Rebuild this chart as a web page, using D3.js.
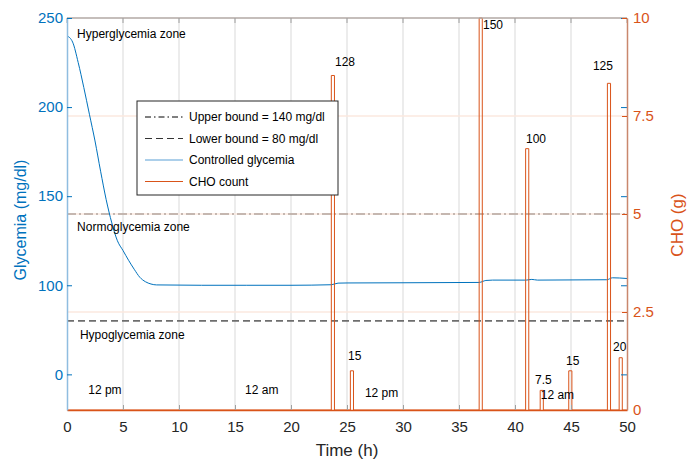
<!DOCTYPE html>
<html>
<head>
<meta charset="utf-8">
<script src="https://cdn.jsdelivr.net/npm/d3@7"></script>
<style>
  body { margin: 0; background: #fff; }
  svg { font-family: "Liberation Sans", Arial, Helvetica, sans-serif; }
</style>
</head>
<body>
<div id="chart"></div>
<script>
// Axis ticks
const timeTicks = [0, 5, 10, 15, 20, 25, 30, 35, 40, 45, 50];
const glyTicks = [50, 100, 150, 200, 250];
const glyTickLabels = ['0', '100', '150', '200', '250'];
const choTicks = [0, 2.5, 5, 7.5, 10];
const choTickLabels = ['0', '2.5', '5', '7.5', '10'];

// Controlled glycemia (mg/dl) over time (h)
const glyTime = [0, 0.5, 1, 1.5, 2, 2.5, 3, 3.5, 4, 4.5, 5, 5.5, 6, 6.5, 7, 7.5, 8,
  12, 16, 20, 23.6, 24.2, 25, 30, 36.8, 37.4, 38, 41, 41.5, 42, 45, 48.2, 48.7, 50];
const glyValue = [240, 236.5, 225, 211, 196, 181, 164, 148, 135, 125, 119.5, 114, 109, 104.5, 102, 100.7, 100.2,
  100, 100, 100, 100.3, 101.2, 101.3, 101.4, 101.6, 102.7, 102.9, 102.9, 103.3, 102.9, 103, 103.1, 104.2, 103.8];

// Meals: start time (h) and carbohydrate (g); plotted as 15 g exchanges
const mealStart = [23.6, 25.3, 36.8, 40.95, 42.25, 44.8, 48.25, 49.3];
const mealGrams = [128, 15, 150, 100, 7.5, 15, 125, 20];
const mealDuration = 0.28;
const gramsPerExchange = 15;

// Where the meal labels sit (time h, CHO units)
const mealLabelTime = [23.93, 25.09, 37.14, 40.98, 41.79, 44.55, 46.96, 48.75];
const mealLabelCho = [8.88, 1.38, 9.82, 6.91, 0.76, 1.25, 8.78, 1.61];

// Bounds
const upperBound = 140;
const lowerBound = 80;

// Zone texts
const zoneNames = ['Hyperglycemia zone', 'Normoglycemia zone', 'Hypoglycemia zone'];
const zoneTime = [0.9, 0.9, 1.15];
const zoneGly = [241, 132.6, 72];

// Time of day texts
const dayNames = ['12 pm', '12 am', '12 pm', '12 am'];
const dayTime = [1.9, 15.9, 26.6, 42.3];
const dayCho = [0.51, 0.51, 0.43, 0.38];

const blue = '#0072BD';
const orange = '#D95319';

function dibujarGrafico() {
  const width = 689, height = 461;
  const margin = {top: 18, right: 62, bottom: 51, left: 67};
  const w = width - margin.left - margin.right;
  const h = height - margin.top - margin.bottom;

  const svg = d3.select('#chart').append('svg')
    .attr('width', width)
    .attr('height', height);

  const g = svg.append('g')
    .attr('transform', `translate(${margin.left},${margin.top})`);

  const x = d3.scaleLinear().domain([0, 50]).range([0, w]);
  const yGly = d3.scaleLinear().domain([30, 250]).range([h, 0]);
  const yCho = d3.scaleLinear().domain([0, 10]).range([h, 0]);

  // Grid: vertical from time ticks, horizontal from CHO ticks
  g.append('g').selectAll('line')
    .data(timeTicks.slice(1, -1))
    .enter().append('line')
    .attr('x1', d => x(d)).attr('x2', d => x(d))
    .attr('y1', 0).attr('y2', h)
    .attr('stroke', '#e6e6e6').attr('stroke-width', 1.5);

  g.append('g').selectAll('line')
    .data(choTicks.slice(1, -1))
    .enter().append('line')
    .attr('x1', 0).attr('x2', w)
    .attr('y1', d => yCho(d)).attr('y2', d => yCho(d))
    .attr('stroke', '#fbe8df').attr('stroke-width', 1.5);

  // Bound lines
  g.append('line')
    .attr('x1', 0).attr('x2', w)
    .attr('y1', yGly(upperBound)).attr('y2', yGly(upperBound))
    .attr('stroke', '#b3a59f').attr('stroke-width', 1.5)
    .attr('stroke-dasharray', '9,3,2,3');

  g.append('line')
    .attr('x1', 0).attr('x2', w)
    .attr('y1', yGly(lowerBound)).attr('y2', yGly(lowerBound))
    .attr('stroke', '#6e6e6e').attr('stroke-width', 1.6)
    .attr('stroke-dasharray', '7,4');

  // Glycemia curve
  const glyPoints = glyTime.map((t, i) => [t, glyValue[i]]);
  g.append('path')
    .datum(glyPoints)
    .attr('fill', 'none')
    .attr('stroke', blue)
    .attr('stroke-width', 1)
    .attr('d', d3.line()
      .x(d => x(d[0]))
      .y(d => yGly(d[1]))
      .curve(d3.curveMonotoneX));

  // CHO as a stairs line
  const choPoints = [[0, 0]];
  mealStart.forEach((s, i) => {
    const v = mealGrams[i] / gramsPerExchange;
    choPoints.push([s, 0], [s, v], [s + mealDuration, v], [s + mealDuration, 0]);
  });
  choPoints.push([50, 0]);

  g.append('path')
    .datum(choPoints)
    .attr('fill', 'none')
    .attr('stroke', orange)
    .attr('stroke-width', 1)
    .attr('d', d3.line()
      .x(d => x(d[0]))
      .y(d => yCho(d[1])));

  // Meal labels
  g.append('g').selectAll('text')
    .data(mealGrams)
    .enter().append('text')
    .attr('x', (d, i) => x(mealLabelTime[i]))
    .attr('y', (d, i) => yCho(mealLabelCho[i]))
    .attr('dy', '0.35em')
    .style('font-size', '12px')
    .attr('fill', '#000')
    .text(d => d);

  // Zone labels
  g.append('g').selectAll('text')
    .data(zoneNames)
    .enter().append('text')
    .attr('x', (d, i) => x(zoneTime[i]))
    .attr('y', (d, i) => yGly(zoneGly[i]))
    .attr('dy', '0.35em')
    .style('font-size', '12px')
    .attr('fill', '#000')
    .text(d => d);

  // Time of day labels
  g.append('g').selectAll('text')
    .data(dayNames)
    .enter().append('text')
    .attr('x', (d, i) => x(dayTime[i]))
    .attr('y', (d, i) => yCho(dayCho[i]))
    .attr('dy', '0.35em')
    .style('font-size', '12px')
    .attr('fill', '#000')
    .text(d => d);

  // Box top
  g.append('line')
    .attr('x1', 0).attr('x2', w).attr('y1', 0).attr('y2', 0)
    .attr('stroke', '#b2a9a5').attr('stroke-width', 1.5);

  // Top ticks
  g.append('g').selectAll('line')
    .data(timeTicks)
    .enter().append('line')
    .attr('x1', d => x(d)).attr('x2', d => x(d))
    .attr('y1', 0).attr('y2', 5)
    .attr('stroke', '#a0a0a0');

  // Bottom axis
  const xAxis = g.append('g')
    .attr('transform', `translate(0,${h})`)
    .call(d3.axisBottom(x).tickValues(timeTicks).tickSizeInner(-5).tickSizeOuter(0).tickPadding(11));
  xAxis.select('.domain').attr('stroke', orange).attr('stroke-width', 1.5);
  xAxis.selectAll('.tick line').attr('stroke', '#a0a0a0');
  xAxis.selectAll('.tick text').attr('fill', '#262626').style('font-size', '15px');

  // Left axis (glycemia)
  const yLeft = g.append('g')
    .call(d3.axisLeft(yGly).tickValues(glyTicks)
      .tickFormat((d, i) => glyTickLabels[i])
      .tickSizeInner(-5).tickSizeOuter(0).tickPadding(4));
  yLeft.select('.domain').attr('stroke', '#8fbde0').attr('stroke-width', 1.5);
  yLeft.selectAll('.tick line').attr('stroke', blue);
  yLeft.selectAll('.tick text').attr('fill', blue).style('font-size', '15px');

  // Glycemia ticks mirrored on the right side
  const yLeftMirror = g.append('g')
    .attr('transform', `translate(${w},0)`)
    .call(d3.axisLeft(yGly).tickValues(glyTicks).tickFormat('').tickSizeInner(6).tickSizeOuter(0));
  yLeftMirror.select('.domain').remove();
  yLeftMirror.selectAll('.tick line').attr('stroke', blue);

  // Right axis (CHO)
  const yRight = g.append('g')
    .attr('transform', `translate(${w},0)`)
    .call(d3.axisRight(yCho).tickValues(choTicks)
      .tickFormat((d, i) => choTickLabels[i])
      .tickSizeInner(-5).tickSizeOuter(0).tickPadding(6));
  yRight.select('.domain').attr('stroke', '#c9876d').attr('stroke-width', 1.5);
  yRight.selectAll('.tick line').attr('stroke', orange);
  yRight.selectAll('.tick text').attr('fill', orange).style('font-size', '15px');

  // Axis titles
  svg.append('text')
    .attr('x', margin.left + w / 2)
    .attr('y', 456)
    .attr('text-anchor', 'middle')
    .style('font-size', '17px')
    .attr('fill', '#262626')
    .text('Time (h)');

  svg.append('text')
    .attr('transform', `translate(20,${margin.top + h / 2 + 6}) rotate(-90)`)
    .attr('text-anchor', 'middle')
    .attr('dy', '0.35em')
    .style('font-size', '16px')
    .attr('fill', blue)
    .text('Glycemia (mg/dl)');

  svg.append('text')
    .attr('transform', `translate(677,225) rotate(-90)`)
    .attr('text-anchor', 'middle')
    .attr('dy', '0.35em')
    .style('font-size', '17px')
    .attr('fill', orange)
    .text('CHO (g)');

  // Legend
  const legendItems = [
    {label: 'Upper bound = 140 mg/dl', color: '#000', dash: '6,3,1.5,3', width: 1},
    {label: 'Lower bound = 80 mg/dl', color: '#333', dash: '7,4', width: 1},
    {label: 'Controlled glycemia', color: '#5aa0d6', dash: null, width: 1.2},
    {label: 'CHO count', color: orange, dash: null, width: 1}
  ];

  const legend = svg.append('g').attr('transform', 'translate(137,101)');
  legend.append('rect')
    .attr('width', 201).attr('height', 94)
    .attr('fill', '#fff')
    .attr('stroke', '#262626').attr('stroke-width', 1);

  const row = legend.selectAll('.legend-row')
    .data(legendItems)
    .enter().append('g')
    .attr('class', 'legend-row')
    .attr('transform', (d, i) => `translate(0,${16 + i * 21.5})`);

  row.append('line')
    .attr('x1', 8).attr('x2', 46)
    .attr('stroke', d => d.color)
    .attr('stroke-width', d => d.width)
    .attr('stroke-dasharray', d => d.dash);

  row.append('text')
    .attr('x', 52)
    .attr('dy', '0.35em')
    .style('font-size', '12px')
    .attr('fill', '#000')
    .text(d => d.label);
}

document.addEventListener('DOMContentLoaded', function() {
  dibujarGrafico();
});
</script>
</body>
</html>
